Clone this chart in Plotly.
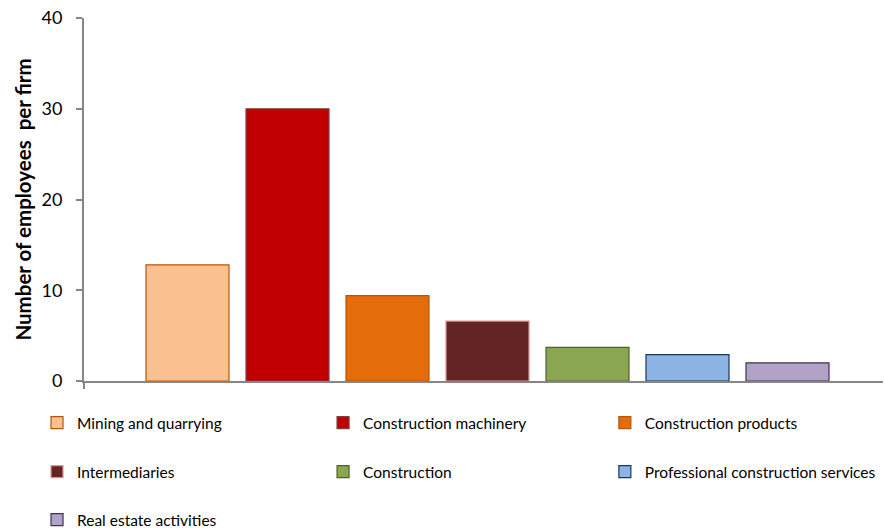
import plotly.graph_objects as go

categories = ["Mining and quarrying", "Construction machinery", "Construction products",
              "Intermediaries", "Construction", "Professional construction services",
              "Real estate activities"]
values = [12.8, 30.0, 9.4, 6.6, 3.7, 2.9, 2.0]
fill_colors = ["#FAC090", "#C00000", "#E46C0A", "#632523", "#8AA650", "#8EB4E3", "#B3A2C7"]
line_colors = ["#B65708", "#7F3F3F", "#B65708", "#D99694", "#4F6228", "#17375E", "#403152"]
y_ticks = [0, 10, 20, 30, 40]

FONT = "Lato, Calibri, 'Open Sans', sans-serif"

# legend grid placement (3 columns, rows top to bottom)
col_x = [-0.0588, 0.2992, 0.6519]
row_y = [-0.1157, -0.2507, -0.383]

fig = go.Figure()
legends = {}
for i, (name, v) in enumerate(zip(categories, values)):
    key = "legend" if i == 0 else f"legend{i + 1}"
    fig.add_trace(go.Bar(
        x=[i], y=[v], name=name, width=0.83,
        marker=dict(color=fill_colors[i], line=dict(color=line_colors[i], width=1.2)),
        legend=key,
    ))
    legends[key] = dict(orientation="h", xanchor="left", yanchor="middle",
                        x=col_x[i % 3], y=row_y[i // 3],
                        font=dict(family=FONT, size=15.5, color="#000000"),
                        bgcolor="rgba(0,0,0,0)")

fig.update_layout(
    width=884, height=531,
    margin=dict(l=84, r=1, t=18, b=150, autoexpand=False),
    paper_bgcolor="white", plot_bgcolor="white",
    barmode="overlay",
    showlegend=True,
    xaxis=dict(range=[-1.035, 6.955], showgrid=False, zeroline=False,
               showline=True, linecolor="#868686", linewidth=2,
               tickmode="array", tickvals=[-1.035], ticktext=[""],
               ticks="outside", ticklen=6, tickcolor="#868686", tickwidth=1.5),
    yaxis=dict(range=[0, 40], tickvals=y_ticks, showgrid=False, zeroline=False,
               showline=True, linecolor="#868686", linewidth=2,
               ticks="outside", ticklen=6, tickcolor="#868686", tickwidth=1.5,
               ticklabelstandoff=10,
               tickfont=dict(family=FONT, size=18, color="#000000"),
               title=dict(text="<b>Number of employees  per firm</b>", standoff=4,
                          font=dict(family=FONT, size=20.5, color="#000000"))),
    **legends,
)

fig.write_html("out.html", config={"displayModeBar": False},
               post_script="document.body.style.margin='0';document.body.style.padding='0';")
